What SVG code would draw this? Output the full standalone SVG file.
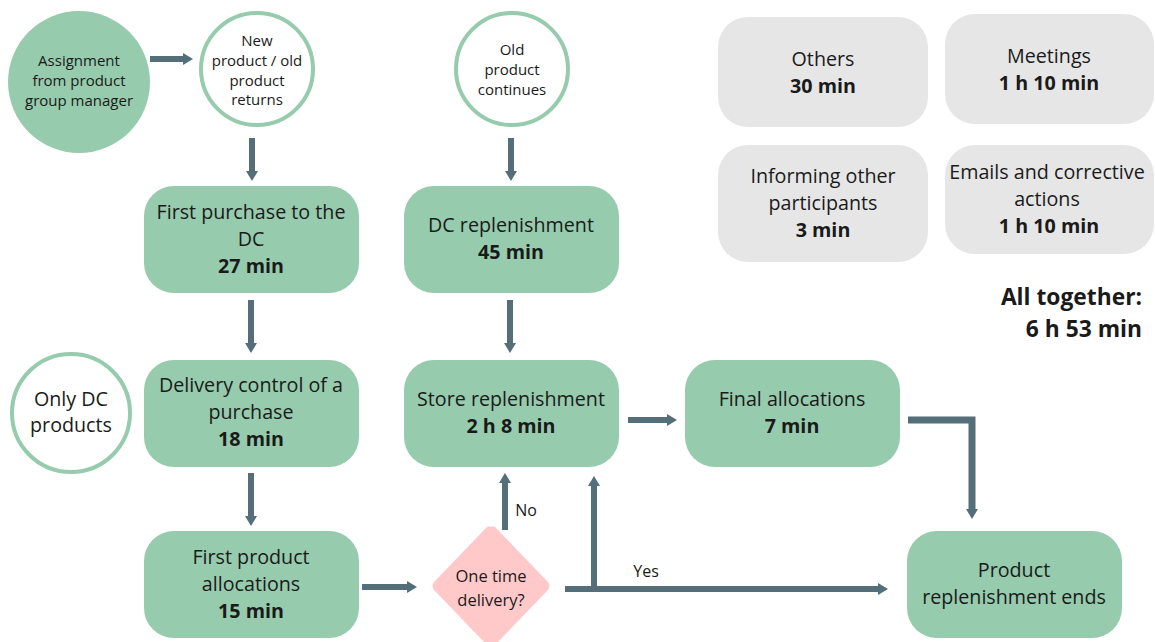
<svg xmlns="http://www.w3.org/2000/svg" width="1155" height="642" viewBox="0 0 1155 642">
<defs>
<style>
text{font-family:"Open Sans","Liberation Sans",sans-serif;fill:#1a1a1a;text-anchor:middle}
.t{font-size:19.7px}
.b{font-size:19.7px;font-weight:700}
.s{font-size:15px}
.g{fill:#96cbad}
.gr{fill:#e6e6e6}
.wc{fill:#fff;stroke:#96cbad;stroke-width:4}
.c{fill:none;stroke:#546e7a;stroke-width:6;marker-end:url(#ah)}
.lbl{font-size:16px}
</style>
<marker id="ah" viewBox="0 0 10 12" refX="3" refY="6" markerWidth="10" markerHeight="12" markerUnits="userSpaceOnUse" orient="auto"><path d="M0,0 L10,6 L0,12 Z" fill="#546e7a"/></marker>
</defs>
<rect width="1155" height="642" fill="#fff"/>
<g id="connectors">
<path class="c" d="M150,59 H186"/>
<path class="c" d="M252,138 V174"/>
<path class="c" d="M511,138 V174"/>
<path class="c" d="M251,300 V346"/>
<path class="c" d="M510,300 V346"/>
<path class="c" d="M251,473 V519"/>
<path class="c" d="M628,420 H670"/>
<path class="c" d="M908,420 H972 V512" style="stroke-width:7"/>
<path class="c" d="M362,587 H410"/>
<path class="c" d="M505,530 V480"/>
<path class="c" d="M565,589 H881"/>
<path class="c" d="M594,589 V483"/>
<text class="lbl" x="526" y="516">No</text>
<text class="lbl" x="646" y="577">Yes</text>
</g>
<g id="assignment"><circle class="g" cx="79" cy="82" r="71"/><text class="s" x="79" y="66">Assignment</text><text class="s" x="79" y="86">from product</text><text class="s" x="79" y="106">group manager</text></g>
<g id="new-product"><circle class="wc" cx="257" cy="69" r="56"/><text class="s" x="257" y="46">New</text><text class="s" x="257" y="66">product / old</text><text class="s" x="257" y="86">product</text><text class="s" x="257" y="105">returns</text></g>
<g id="old-product"><circle class="wc" cx="512" cy="69" r="56"/><text class="s" x="512" y="55">Old</text><text class="s" x="512" y="75">product</text><text class="s" x="512" y="95">continues</text></g>
<g id="only-dc"><circle class="wc" cx="71" cy="413" r="59"/><text class="t" x="71" y="406">Only DC</text><text class="t" x="71" y="432">products</text></g>
<g id="first-purchase"><rect class="g" x="144" y="186" width="215" height="107" rx="30"/><text class="t" x="251" y="219">First purchase to the</text><text class="t" x="251" y="246">DC</text><text class="b" x="251" y="273">27 min</text></g>
<g id="dc-replenishment"><rect class="g" x="404" y="186" width="215" height="107" rx="30"/><text class="t" x="511" y="232">DC replenishment</text><text class="b" x="511" y="259">45 min</text></g>
<g id="delivery-control"><rect class="g" x="144" y="360" width="215" height="107" rx="30"/><text class="t" x="251" y="392">Delivery control of a</text><text class="t" x="251" y="419">purchase</text><text class="b" x="251" y="446">18 min</text></g>
<g id="store-replenishment"><rect class="g" x="404" y="360" width="215" height="107" rx="30"/><text class="t" x="511" y="406">Store replenishment</text><text class="b" x="511" y="433">2 h 8 min</text></g>
<g id="final-allocations"><rect class="g" x="685" y="360" width="215" height="107" rx="30"/><text class="t" x="792" y="406">Final allocations</text><text class="b" x="792" y="433">7 min</text></g>
<g id="first-product-allocations"><rect class="g" x="144" y="531" width="215" height="107" rx="30"/><text class="t" x="251" y="564">First product</text><text class="t" x="251" y="591">allocations</text><text class="b" x="251" y="618">15 min</text></g>
<g id="one-time-delivery"><path d="M491,527 Q494,525 497,529 L548,582 Q551,586 548,590 L497,643 Q491,649 485,643 L434,590 Q431,586 434,582 L485,529 Q488,525 491,527 Z" fill="#ffc9c9"/><text x="491" y="582" style="font-size:16.5px">One time</text><text x="491" y="606" style="font-size:16.5px">delivery?</text></g>
<g id="product-replenishment-ends"><rect class="g" x="907" y="531" width="215" height="107" rx="30"/><text class="t" x="1014" y="577">Product</text><text class="t" x="1014" y="604">replenishment ends</text></g>
<g id="others"><rect class="gr" x="718" y="17" width="210" height="110" rx="30"/><text class="t" x="823" y="66">Others</text><text class="b" x="823" y="93">30 min</text></g>
<g id="meetings"><rect class="gr" x="945" y="14" width="209" height="110" rx="30"/><text class="t" x="1049" y="63">Meetings</text><text class="b" x="1049" y="90">1 h 10 min</text></g>
<g id="informing"><rect class="gr" x="718" y="145" width="210" height="117" rx="30"/><text class="t" x="823" y="183">Informing other</text><text class="t" x="823" y="210">participants</text><text class="b" x="823" y="237">3 min</text></g>
<g id="emails"><rect class="gr" x="945" y="145" width="209" height="109" rx="30"/><text class="t" x="1047" y="179">Emails and corrective</text><text class="t" x="1047" y="206">actions</text><text class="b" x="1049" y="233">1 h 10 min</text></g>
<g id="total"><text x="1142" y="305" style="font-size:22.8px;font-weight:700;text-anchor:end">All together:</text><text x="1142" y="337" style="font-size:22.8px;font-weight:700;text-anchor:end">6 h 53 min</text></g>
</svg>
